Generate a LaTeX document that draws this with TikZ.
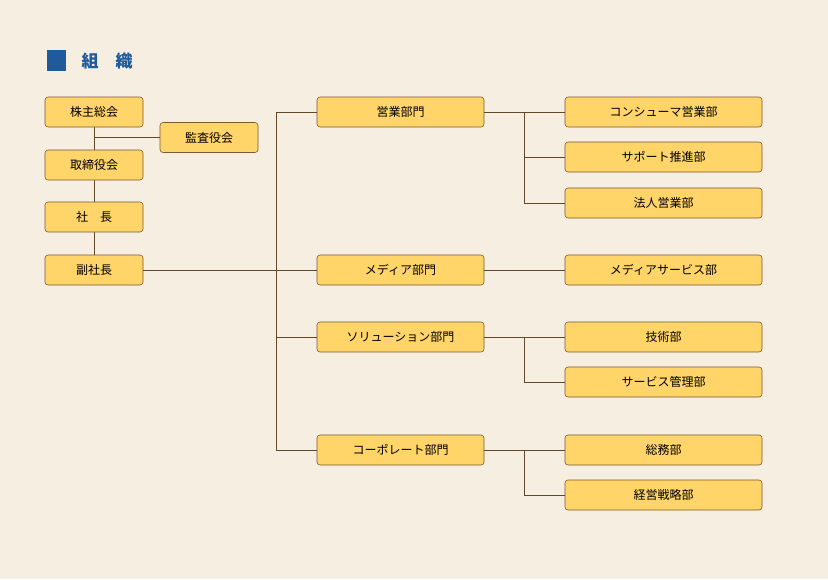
\documentclass[tikz,border=0pt]{standalone}
\usepackage{fontspec}
\newfontfamily\cjk{Noto Sans CJK JP}
\definecolor{bg}{HTML}{F6EEE1}
\definecolor{boxf}{HTML}{FFD468}
\definecolor{boxd}{HTML}{7A5A30}
\definecolor{ttl}{HTML}{1F5A9A}
\begin{document}
\begin{tikzpicture}[x=1pt,y=-1pt,
  b/.style={draw=boxd,fill=boxf,rounded corners=3pt,line width=0.6pt,minimum height=30pt,inner sep=0pt,font=\cjk\fontsize{12}{14}\selectfont},
  s/.style={b,minimum width=98pt},
  m/.style={b,minimum width=167pt},
  r/.style={b,minimum width=197pt},
  ln/.style={draw=boxd!80!black,line width=0.6pt}]
\fill[bg] (0,0) rectangle (828,579);
\useasboundingbox (0,0) rectangle (828,579);
\fill[ttl] (47,50) rectangle (66,71);
\node[anchor=west,text=ttl,font=\cjk\bfseries\fontsize{17}{20}\selectfont] (title) at (78,61) {組\quad 織};
% left
\coordinate (t1) at (94,112);
\coordinate (t5) at (94,270);
\draw[ln] (t1) -- (t5);
\draw[ln] (94,137.5) -- (160,137.5);
\node[s] (a1) at (94,112) {株主総会};
\node[s] (a2) at (209,137.5) {監査役会};
\node[s] (a3) at (94,165) {取締役会};
\node[s] (a4) at (94,217) {社\quad 長};
\node[s] (a5) at (94,270) {副社長};
% divisions
\node[m] (d1) at (400.5,112) {営業部門};
\node[m] (d2) at (400.5,270) {メディア部門};
\node[m] (d3) at (400.5,337) {ソリューション部門};
\node[m] (d4) at (400.5,450) {コーポレート部門};
\draw[ln] (a5.east) -- (d2.west);
\draw[ln] (d1.west) -| (276,450) -- (d4.west);
\draw[ln] (276,337) -- (d3.west);
% right
\node[r] (r1) at (663.5,112) {コンシューマ営業部};
\node[r] (r2) at (663.5,157) {サポート推進部};
\node[r] (r3) at (663.5,203) {法人営業部};
\node[r] (r4) at (663.5,270) {メディアサービス部};
\node[r] (r5) at (663.5,337) {技術部};
\node[r] (r6) at (663.5,382) {サービス管理部};
\node[r] (r7) at (663.5,450) {総務部};
\node[r] (r8) at (663.5,495) {経営戦略部};
\draw[ln] (d1.east) -- (r1.west);
\draw[ln] (524,112) |- (r3.west);
\draw[ln] (524,157) -- (r2.west);
\draw[ln] (d2.east) -- (r4.west);
\draw[ln] (d3.east) -- (r5.west);
\draw[ln] (524,337) |- (r6.west);
\draw[ln] (d4.east) -- (r7.west);
\draw[ln] (524,450) |- (r8.west);
\end{tikzpicture}
\end{document}
